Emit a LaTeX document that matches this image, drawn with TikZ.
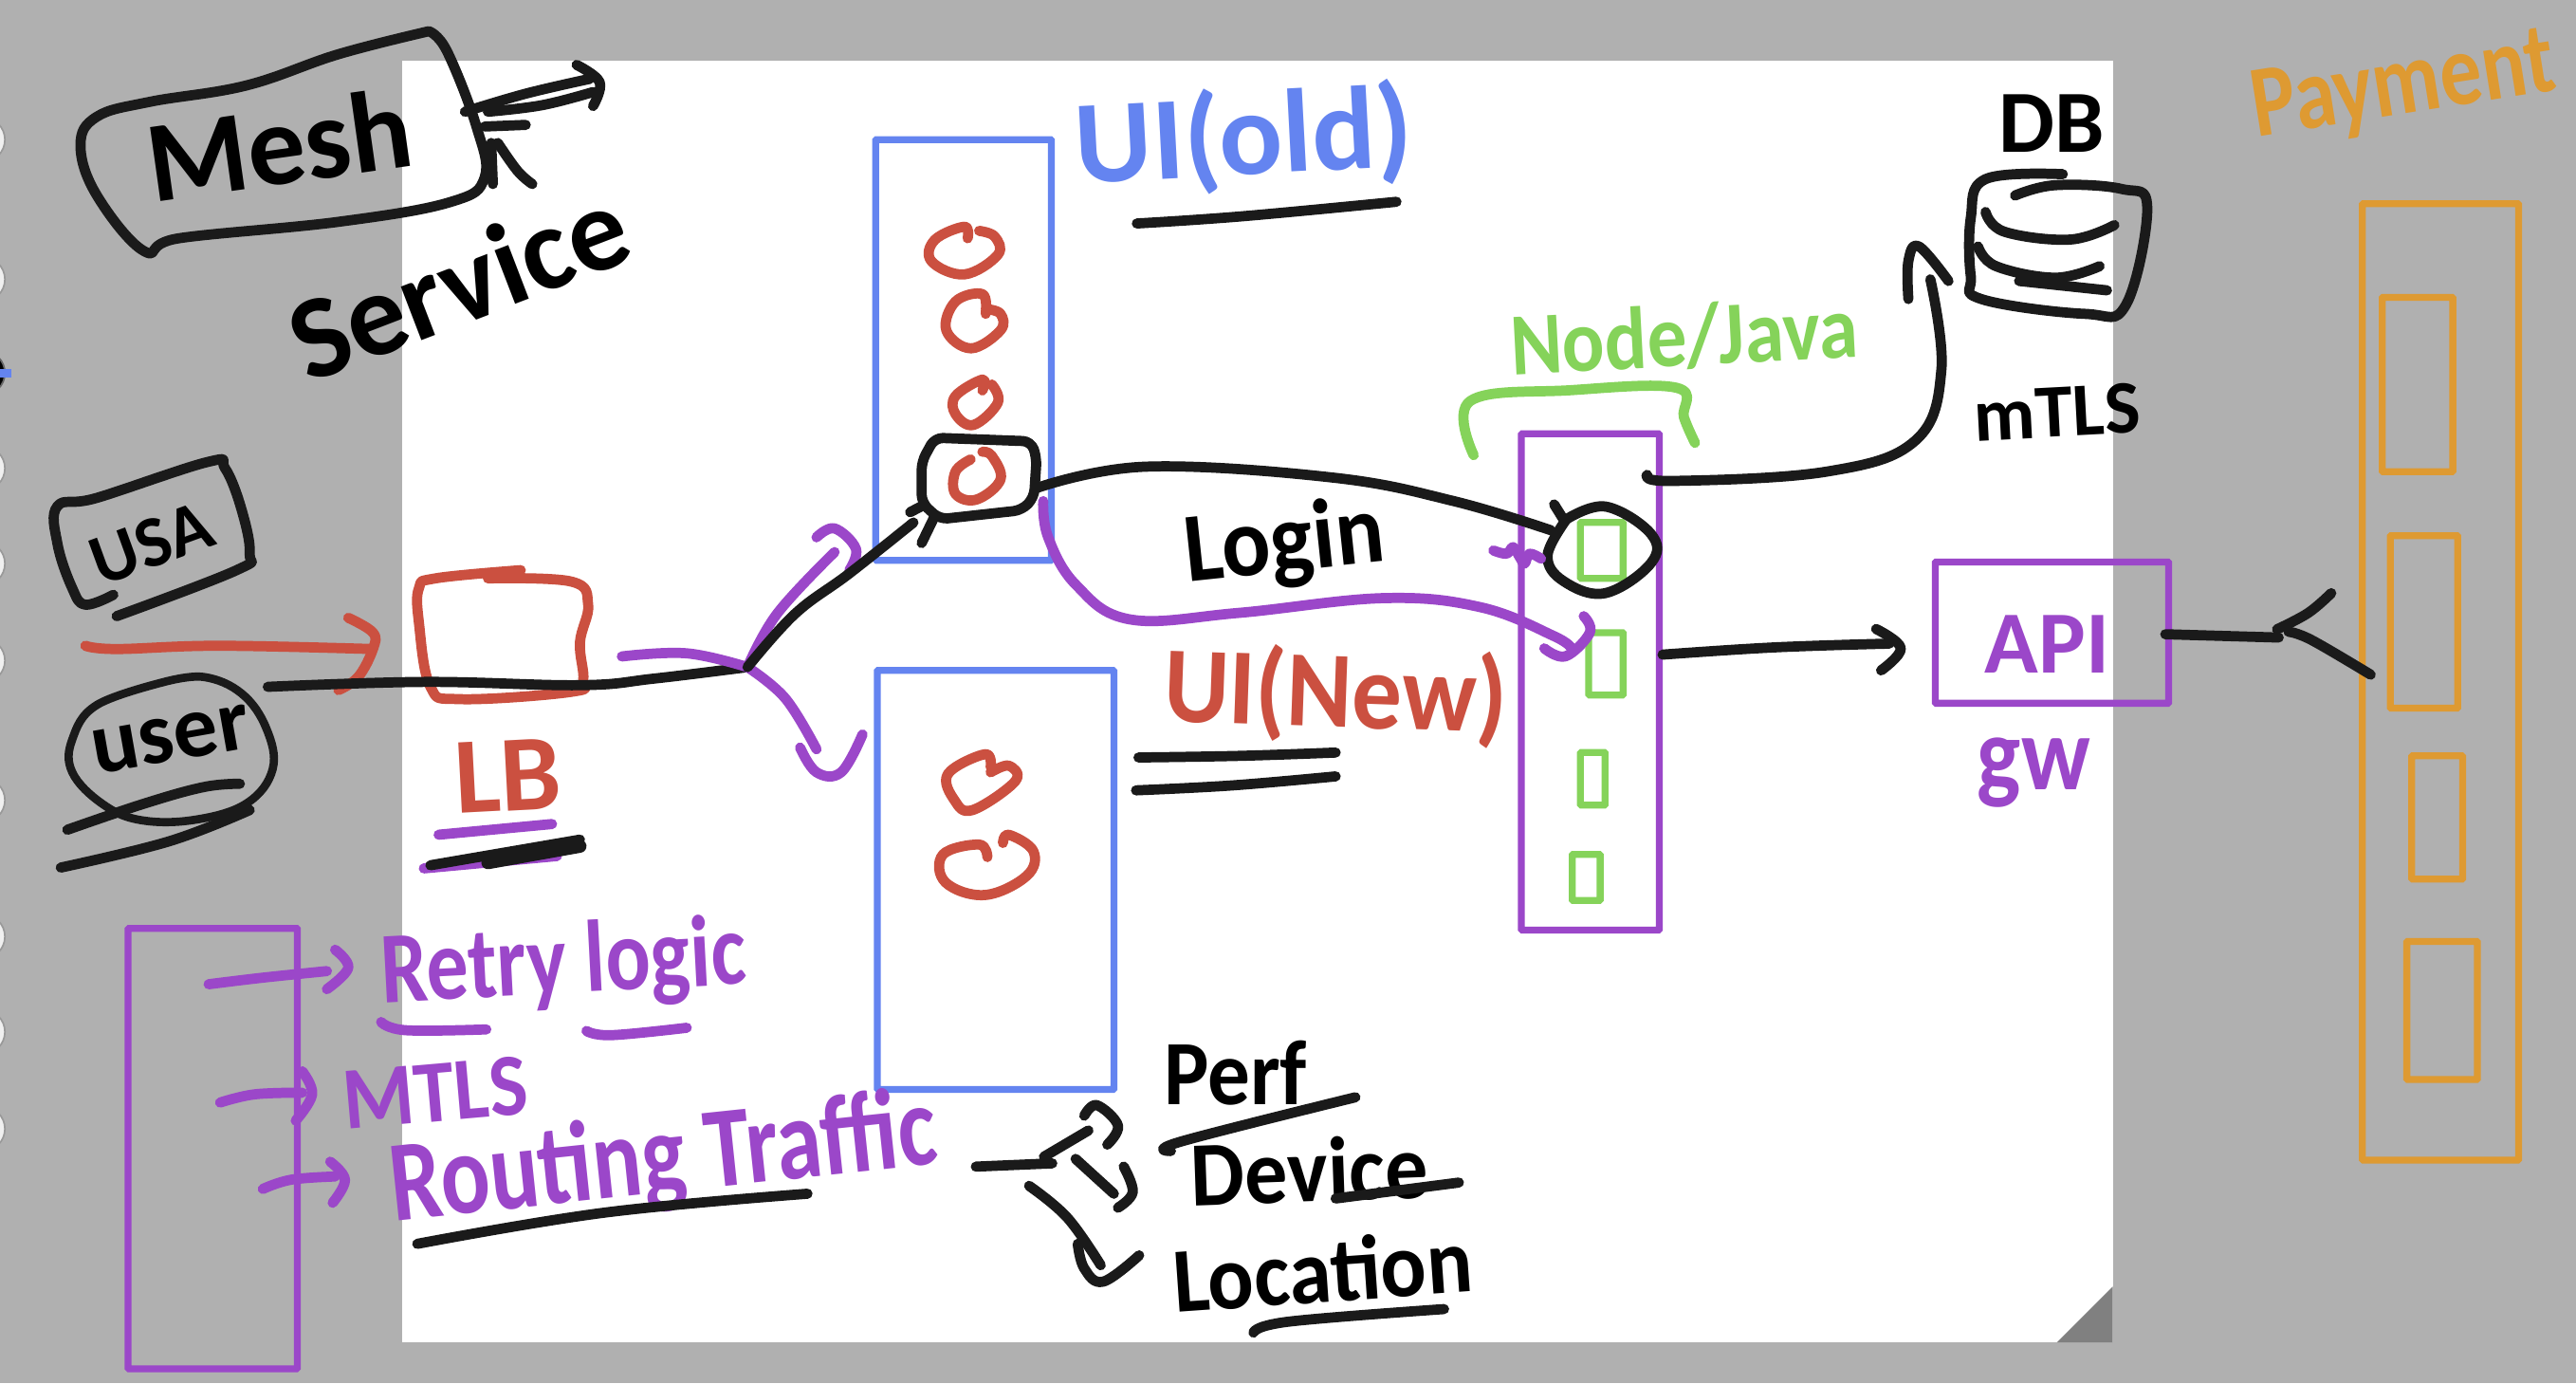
\documentclass[tikz,border=0pt]{standalone}
\usepackage{graphicx}
\usepackage{fontspec}
\setmainfont{Carlito}
\definecolor{inkblack}{HTML}{1A1A1A}
\definecolor{inkpurple}{HTML}{9B47C9}
\definecolor{inkred}{HTML}{CB5040}
\definecolor{inkblue}{HTML}{6484F0}
\definecolor{inkgreen}{HTML}{85D35A}
\definecolor{inkorange}{HTML}{DE9A32}
\definecolor{desk}{HTML}{B0B0B0}
\tikzset{
  pen/.style={line width=6.2,line cap=round,line join=round,draw=inkblack},
  thin pen/.style={pen,line width=5},
  boxed/.style={draw,rectangle,inner sep=0pt,rounded corners=0.5,line width=4.2},
  blue box/.style={boxed,draw=inkblue},
  purple box/.style={boxed,draw=inkpurple},
  green box/.style={boxed,draw=inkgreen},
  orange box/.style={boxed,draw=inkorange},
  label/.style={font=\bfseries,inner sep=0pt},
  side dot/.style={circle,draw=black!40,fill=white!94!black,line width=1,minimum size=27,inner sep=0pt}
}
\newcommand{\fs}[3][1]{\fontsize{#2}{#2}\selectfont\scalebox{#1}[1]{#3}}
\newcommand{\sk}[2][]{\draw[pen,#1] plot[smooth,tension=.65] coordinates {#2};}
\begin{document}
\begin{tikzpicture}[x=1pt,y=-1pt]
\useasboundingbox (0,0) rectangle (1568,841.8);
\clip (0,0) rectangle (1568,841.8);
\fill[desk] (0,0) rectangle (1568,841.8);
\fill[white] (245,37) rectangle (1286,817);
\fill[black!50] (1252,817) -- (1286,783) -- (1286,817) -- cycle;
% side dots
\foreach \n/\y in {a/85,b/170,c/285,d/343,e/402,f/487,g/570,h/628,i/687}{
  \node[side dot] (dot\n) at (-10.5,\y) {};
}
\node[side dot,fill=black,draw=black!60] (dotk) at (-10.5,227) {};
\fill[inkblue] (0,224.5) rectangle (7,229.5);

% boxes
\node[blue box,minimum width=107,minimum height=256] (uiold) at (586.5,213) {};
\node[blue box,minimum width=144,minimum height=255] (uinew) at (606,535.5) {};
\node[purple box,minimum width=84,minimum height=302] (svc) at (968,415) {};
\node[green box,minimum width=26,minimum height=34] (g1) at (975,335) {};
\node[green box,minimum width=21,minimum height=38] (g2) at (977.5,404) {};
\node[green box,minimum width=15,minimum height=32] (g3) at (969.5,474) {};
\node[green box,minimum width=17,minimum height=28] (g4) at (965.5,534) {};
\node[purple box,minimum width=142,minimum height=86] (apibox) at (1249,385) {};
\node[orange box,minimum width=95,minimum height=582] (pay) at (1485.5,415) {};
\node[orange box,minimum width=43,minimum height=106] (p1) at (1471.5,234) {};
\node[orange box,minimum width=41,minimum height=105] (p2) at (1475.5,378.5) {};
\node[orange box,minimum width=31,minimum height=75] (p3) at (1483.5,497.5) {};
\node[orange box,minimum width=43,minimum height=84] (p4) at (1486.5,615) {};
\node[purple box,minimum width=103,minimum height=268] (mesh) at (129.5,699) {};

% connector ends
\coordinate (userOut) at (163,418);
\coordinate (fork) at (455,406);
\coordinate (lbOut) at (378.5,399.5);
\coordinate (loginOut) at (631,297);
\coordinate (loginIn) at (944,322.7);
\coordinate (newOut) at (635,305);
\coordinate (newIn) at (956.6,394.6);
\coordinate (svcApi) at (1012,398.4);
\coordinate (apiIn) at (1150,391.7);
\coordinate (svcDb) at (1002.6,289);
\coordinate (dbIn) at (1175,170);
\coordinate (apiOut) at (1318,386);
\coordinate (payFork) at (1387,388);
\coordinate (oldTip) at (556,318);
\coordinate (routeOut) at (594,710);
\coordinate (routeFork) at (640.5,708);

% Mesh outline
\sk{(261,19) (206,33) (150,52) (91,62) (59,71) (49,88.5) (59,119) (88,153) (109,145) (206,135) (274,123) (295,108) (290,77) (272,31) (261,19)}
\sk{(283,68) (320,57) (359,48)}
\sk{(297,68) (330,64) (361,56)}
\sk{(351,39.5) (365,50) (361,64.5)}
\sk{(320,76) (295,77)}
\draw[pen] (299,87) -- (300,112);
\sk{(303,87) (315,104) (324,112)}
\node[label,rotate=8] (tmesh) at (170,88) {\fs{70}{Mesh}};
\node[label,rotate=21] (tservice) at (279,172) {\fs{72}{Service}};

% USA and user
\sk{(69,362) (52,368) (44,358) (35,331) (35,308) (59,303) (127,281) (137,285) (147,310) (152,337) (144,347) (71,375)}
\node[label,rotate=20] (tusa) at (92,331) {\fs{44}{USA}};
\sk[draw=inkred]{(52,393) (71,395) (133,393) (227,395)}
\sk[draw=inkred]{(212,376) (227,385) (227,395) (218,412) (206,420)}
\sk[thin pen]{(100,415) (124,412) (147,422) (162,443) (166,468) (150,489) (118,499) (85,499) (62,489) (44,470) (44,450) (59,429) (100,415)}
\node[label,rotate=10] (tuser) at (104,450) {\fs{54}{user}};
\sk{(41,505) (88,489) (124,479) (146,477)}
\sk{(37,528) (103,512) (152,493)}

% LB
\sk[draw=inkred]{(317,347) (265,352) (255,358) (255,379) (262,418) (280,425.5) (348,421) (355,414) (353,391) (358,368) (348,354) (297,352)}
\node[label,text=inkred,rotate=3] (tlb) at (309,472) {\fs{66}{LB}};
\sk[draw=inkpurple]{(267,508) (336,501.5)}
\sk[draw=inkpurple]{(258,528.5) (339,521)}
\sk{(262,526.6) (353,511)}
\sk[line width=8]{(297,525) (353,515)}

% main line and fork
\sk{(userOut) (259,415) (353,417) (398,413) (fork)}
\sk[draw=inkpurple]{(lbOut) (418,397.6) (fork)}
\sk[draw=inkpurple]{(fork) (473,373.5) (508,336)}
\sk[draw=inkpurple]{(497,327) (508,321.6) (521,334) (517,347)}
\sk[draw=inkpurple]{(fork) (478,425) (497,456)}
\sk[draw=inkpurple]{(487,455) (497,470) (512,470) (525,447)}
\sk{(fork) (484,373.5) (517,349) (oldTip)}

% red circles in UI old
\sk[draw=inkred]{(589,145) (587,138) (569,146) (567,159) (587,167) (607.4,155) (605.5,144) (596,140.5)}
\sk[draw=inkred]{(600,191) (598,179) (581.6,183.5) (576,201) (591,212) (609,201) (609,191) (600,188)}
\sk[draw=inkred]{(598,237.6) (598,231) (581.6,241) (581.6,252) (592.6,258.6) (607.4,245) (603.7,234)}
\sk[draw=inkred]{(590.8,279.6) (581.6,287) (581.6,300.6) (594.5,304) (609,291.8) (603.7,277.4) (598,275)}
% red circles in UI new
\sk[draw=inkred]{(603,467) (599.5,459) (577,471) (581,487) (592,493) (618,475.4) (614,466) (603,470)}
\sk[draw=inkred]{(601,521.6) (596,514) (574,520) (575.5,537) (599.5,544.7) (625,533) (629,518) (614,508) (610.5,513)}

% selected pod box
\draw[pen,rounded corners=5] (569,266.4) -- (627.6,268.6) -- (631,278.5) -- (629.4,302.8) -- (622,310.5) -- (572,316) -- (561,306) -- (561,281) -- cycle;
\sk{(569,314) (561,330.5)}
\sk{(554,311.7) (563,307)}

% UI labels
\node[label,text=inkblue,rotate=3] (tuiold) at (757,85) {\fs{72}{UI(old)}};
\sk{(692,136) (756.5,131.6) (850,122.8)}
\node[label,text=inkred,rotate=-2] (tuinew) at (813,423) {\fs[0.92]{66}{UI(New)}};
\sk{(693,461) (755,460) (813,458)}
\sk{(691.5,481) (750,478) (813,472.5)}

% Login
\sk{(loginOut) (697.5,284) (811.7,290.7) (885,305) (loginIn)}
\node[label,rotate=6] (tlogin) at (782,332) {\fs[0.92]{60}{Login}};

% selected service ring
\sk{(946,307) (951.6,316)}
\sk{(953.5,316) (977.4,308.3) (1005,325) (1005,342.6) (977,361) (951.6,353.6) (942,338) (953.5,316)}
\sk[draw=inkpurple]{(909,335) (917,337) (921,333) (925,339) (928,343) (931,337) (938,340)}

% new traffic curve
\sk[draw=inkpurple]{(newOut) (638,327) (655,356) (688,377) (754,373) (842.5,364) (901.4,369.6) (945.6,387) (newIn)}
\sk[draw=inkpurple]{(964,375) (967.7,385) (953,399.4) (940,394.6)}

% node/java bracket
\sk[draw=inkgreen]{(897,277) (895,244) (955.6,237.5) (1020.5,236) (1025,254) (1031.7,269.5)}
\node[label,text=inkgreen,rotate=3] (tnode) at (1025,205) {\fs[0.89]{54}{Node/Java}};

% to API
\sk{(svcApi) (1080,394) (apiIn)}
\sk{(1142,382.8) (1157,394.5) (1145,408)}
\node[label,text=inkpurple] (tapi) at (1246,392) {\fs{54}{API}};
\node[label,text=inkpurple] (tgw) at (1238,470) {\fs[0.88]{64}{gw}};

% to DB
\sk{(svcDb) (1018,292.7) (1112,287) (1166,268) (1181.7,225) (dbIn)}
\sk{(1161.6,182) (1161.6,159) (1168,150) (1186,171)}
\node[label] (tdb) at (1249,75) {\fs{54}{DB}};
\node[label,rotate=3] (tmtls) at (1252,251) {\fs{46}{mTLS}};
\sk{(1255.6,106) (1208.6,109) (1199.6,132.5) (1199.6,168) (1206,182) (1269,191) (1294,185.6) (1307,126) (1291.4,115) (1251,112.7) (1226.5,119)}
\sk{(1208.6,129) (1220,141) (1260,145.8) (1287,137)}
\sk{(1204,150) (1215,162) (1251,169) (1278,162)}
\sk{(1229,171) (1282.5,176.7)}

% API to payment
\draw[pen] (apiOut) -- (payFork);
\sk{(1419,361) (1405,373) (1386,383)}
\sk{(1393,384.5) (1407,389.5) (1443,410.6)}
\node[label,text=inkorange,rotate=9] (tpay) at (1463,54) {\fs[0.82]{62}{Payment}};

% purple list
\sk[draw=inkpurple]{(127,599) (160,595) (199,591)}
\sk[draw=inkpurple]{(204,578) (212,589) (199,602)}
\sk[draw=inkpurple]{(134,671) (155,666) (184,665)}
\sk[draw=inkpurple]{(184,652) (190,666) (180,682)}
\sk[draw=inkpurple]{(160,723.6) (177,718) (204,716)}
\sk[draw=inkpurple]{(201,707) (210,718) (202.5,732)}
\node[label,text=inkpurple,rotate=3] (tretry) at (343,588) {\fs[0.82]{62}{Retry logic}};
\sk[draw=inkpurple]{(232,622) (247,627) (296,626.5)}
\sk[draw=inkpurple]{(357,627.4) (372,630) (418,625.5)}
\node[label,text=inkpurple,rotate=5] (tmtls2) at (265,665) {\fs[0.92]{54}{MTLS}};
\node[label,text=inkpurple,rotate=6] (trouting) at (404,707) {\fs[0.8]{70}{Routing Traffic}};
\sk{(254,757) (368,738) (491.5,726.5)}

% routing fork
\draw[pen] (routeOut) -- (routeFork);
\sk{(635.4,704) (662.5,688)}
\sk{(660,679) (667.6,672.6) (680.5,685) (674,696.6)}
\draw[pen] (654.7,705.3) -- (678,726.5);
\sk{(684,710) (689.5,725.5) (680.5,735)}
\sk{(626.4,721.7) (649.6,741) (670,770)}
\sk{(656,757) (660,772) (671.5,780) (693.4,764)}
\node[label] (tperf) at (752,653) {\fs[0.92]{56}{Perf}};
\sk{(712.7,700.5) (719,694.7) (825,667.8)}
\node[label,rotate=2] (tdevice) at (797,712) {\fs[0.93]{56}{Device}};
\sk{(813,729.4) (888,719.7)}
\node[label,rotate=4] (tloc) at (805,773) {\fs[0.93]{56}{Location}};
\sk{(763,811) (784,804.4) (879,796.7)}
\end{tikzpicture}
\end{document}
